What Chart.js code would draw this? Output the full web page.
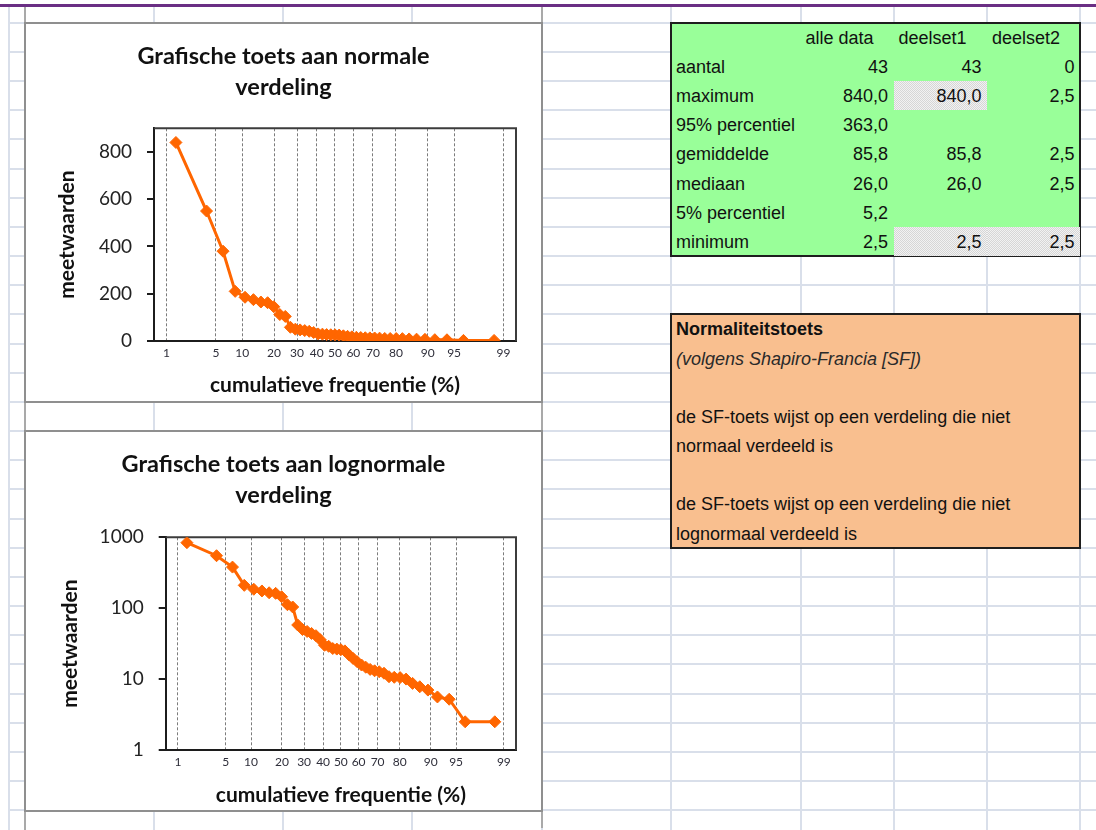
<!DOCTYPE html>
<html>
<head>
<meta charset="utf-8">
<title>Grafische toets</title>
<script src="https://cdn.jsdelivr.net/npm/chart.js@4/dist/chart.umd.min.js"></script>
<style>
  html, body { margin: 0; padding: 0; background: #fff; }
  body { width: 1096px; height: 830px; position: relative; overflow: hidden;
         font-family: "Liberation Sans", Arial, sans-serif; }
  .gl { position: absolute; background: #d9dfea; }
  .chartbox { position: absolute; background: #fff; border: 2px solid #8f8f8f; box-sizing: border-box; }
  .chartbox canvas { position: absolute; left: 0; top: 0; }
  .panel { position: absolute; box-sizing: border-box; border: 2px solid #1e1e1e; }
  .cell { position: absolute; font-size: 18px; color: #111; white-space: nowrap; }
</style>
</head>
<body>
<div id="sheet"></div>
<div class="chartbox" style="left:24px;top:22px;width:519px;height:381px"><canvas id="normalChart" width="515" height="377"></canvas></div>
<div class="chartbox" style="left:24px;top:430px;width:519px;height:382px"><canvas id="lognormalChart" width="515" height="378"></canvas></div>
<div class="panel" id="statsPanel" style="left:670px;top:21.7px;width:411px;height:235.4px;background:#99ff99"></div>
<div class="panel" id="testPanel" style="left:670px;top:313.4px;width:411px;height:235.4px;background:#f9bf8f"></div>

<script>
// ---- data -------------------------------------------------------------
// measured values, sorted from largest to smallest
const meetwaarden = [840, 550, 380, 210, 185, 175, 165, 162, 145, 112, 104, 58, 50, 47, 44, 41, 36, 30, 29, 27,
                     26.5, 26, 25, 22, 19.6, 17.6, 15.8, 14.7, 13.7, 13.1, 12.7, 12.1, 10.8, 10.6, 10.5, 10.0,
                     8.7, 7.8, 7.0, 5.6, 5.2, 2.5, 2.5];
// cumulative frequency (%) of each measurement
const cumFreq = [1.4, 3.8, 6.1, 8.4, 10.7, 13.0, 15.3, 17.6, 19.9, 22.3, 24.6, 26.9, 29.2, 31.5, 33.8, 36.1, 38.4,
                 40.8, 43.1, 45.4, 47.7, 50.0, 52.3, 54.6, 56.9, 59.2, 61.6, 63.9, 66.2, 68.5, 70.8, 73.1, 75.4,
                 77.7, 80.1, 82.4, 84.7, 87.0, 89.3, 91.6, 93.9, 96.2, 98.6];
const freqTicks = [1, 5, 10, 20, 30, 40, 50, 60, 70, 80, 90, 95, 99];
const normalTicks = [0, 200, 400, 600, 800];
const logTicks = [1, 10, 100, 1000];

// statistics table
const colHeaders = ['alle data', 'deelset1', 'deelset2'];
const statLabels = ['aantal', 'maximum', '95% percentiel', 'gemiddelde', 'mediaan', '5% percentiel', 'minimum'];
const alleData = ['43', '840,0', '363,0', '85,8', '26,0', '5,2', '2,5'];
const deelset1 = ['43', '840,0', '', '85,8', '26,0', '', '2,5'];
const deelset2 = ['0', '2,5', '', '2,5', '2,5', '', '2,5'];

// normality test texts
const testTitle = 'Normaliteitstoets';
const testSubtitle = '(volgens Shapiro-Francia [SF])';
const testLines = ['de SF-toets wijst op een verdeling die niet', 'normaal verdeeld is', '',
                   'de SF-toets wijst op een verdeling die niet', 'lognormaal verdeeld is'];

// ---- worksheet grid ----------------------------------------------------
const ROW0 = 22.7, ROWH = 29.17;
const colLines = [9, 24.5, 153.5, 283, 412, 541.5, 671, 800.5, 893.5, 987, 1080];
const sheet = document.getElementById('sheet');
function addDiv(parent, css, cls, text) {
  const d = document.createElement('div');
  if (cls) d.className = cls;
  d.style.cssText = css;
  if (text !== undefined) d.textContent = text;
  parent.appendChild(d);
  return d;
}
for (let k = 0; ROW0 + k * ROWH < 832; k++) {
  addDiv(sheet, `left:9px;width:1087px;top:${ROW0 + k * ROWH - 1}px;height:2px`, 'gl');
}
colLines.forEach(x => addDiv(sheet, `left:${x - 1}px;width:2px;top:6px;height:824px`, 'gl'));
addDiv(sheet, 'position:absolute;left:23.5px;width:2px;top:6px;height:824px;background:#a9a9a9');
addDiv(sheet, 'position:absolute;left:540.5px;width:2px;top:6px;height:822px;background:#a9a9a9');
addDiv(sheet, 'position:absolute;left:0;width:1096px;top:4px;height:2.5px;background:#6a2e84');

// ---- statistics table ---------------------------------------------------
const colLeft = [671, 800.5, 893.5, 987, 1080];
const shadedCells = [[2, 1], [2, 6], [3, 6]];
shadedCells.forEach(([c, r]) => {
  addDiv(document.body,
    `position:absolute;left:${colLeft[c]}px;width:${colLeft[c + 1] - colLeft[c]}px;` +
    `top:${ROW0 + (r + 1) * ROWH}px;height:${ROWH}px;` +
    'background:repeating-conic-gradient(#d6d6d6 0% 25%, #f2f2f2 0% 50%) 0 0/2px 2px');
});
function rowTop(r) { return ROW0 + r * ROWH + 1; }
colHeaders.forEach((h, i) => {
  addDiv(document.body, `left:${colLeft[i + 1] + 5}px;top:${rowTop(0)}px;line-height:${ROWH}px`, 'cell', h);
});
statLabels.forEach((lab, r) => {
  addDiv(document.body, `left:676px;top:${rowTop(r + 1)}px;line-height:${ROWH}px`, 'cell', lab);
  [alleData, deelset1, deelset2].forEach((col, c) => {
    if (!col[r]) return;
    addDiv(document.body,
      `right:${1096 - colLeft[c + 2] + 5.5}px;top:${rowTop(r + 1)}px;line-height:${ROWH}px;text-align:right`,
      'cell', col[r]);
  });
});

// ---- normality test panel -----------------------------------------------
const T0 = ROW0 + 10 * ROWH;
addDiv(document.body, `left:676px;top:${T0 + 1}px;line-height:${ROWH}px;font-weight:bold`, 'cell', testTitle);
addDiv(document.body, `left:676px;top:${T0 + ROWH + 1}px;line-height:${ROWH}px;font-style:italic;color:#2a2a2a`, 'cell', testSubtitle);
testLines.forEach((t, i) => {
  if (t) addDiv(document.body, `left:676px;top:${T0 + (i + 3) * ROWH + 1}px;line-height:${ROWH}px`, 'cell', t);
});

// ---- probability (normal quantile) axis ----------------------------------
function probit(p) {
  const a = [-3.969683028665376e+01, 2.209460984245205e+02, -2.759285104469687e+02, 1.383577518672690e+02, -3.066479806614716e+01, 2.506628277459239e+00];
  const b = [-5.447609879822406e+01, 1.615858368580409e+02, -1.556989798598866e+02, 6.680131188771972e+01, -1.328068155288572e+01];
  const c = [-7.784894002430293e-03, -3.223964580411365e-01, -2.400758277161838e+00, -2.549671348283180e+00, 4.374664141464968e+00, 2.938163982698783e+00];
  const d = [7.784695709041462e-03, 3.224671290700398e-01, 2.445134137142996e+00, 3.754408661907416e+00];
  const pl = 0.02425;
  let q, r;
  if (p < pl) {
    q = Math.sqrt(-2 * Math.log(p));
    return (((((c[0] * q + c[1]) * q + c[2]) * q + c[3]) * q + c[4]) * q + c[5]) / ((((d[0] * q + d[1]) * q + d[2]) * q + d[3]) * q + 1);
  }
  if (p <= 1 - pl) {
    q = p - 0.5; r = q * q;
    return (((((a[0] * r + a[1]) * r + a[2]) * r + a[3]) * r + a[4]) * r + a[5]) * q / (((((b[0] * r + b[1]) * r + b[2]) * r + b[3]) * r + b[4]) * r + 1);
  }
  q = Math.sqrt(-2 * Math.log(1 - p));
  return -(((((c[0] * q + c[1]) * q + c[2]) * q + c[3]) * q + c[4]) * q + c[5]) / ((((d[0] * q + d[1]) * q + d[2]) * q + d[3]) * q + 1);
}
function normCdf(z) {
  const t = 1 / (1 + 0.2316419 * Math.abs(z));
  const y = 0.3989423 * Math.exp(-z * z / 2) * t * (0.3193815 + t * (-0.3565638 + t * (1.781478 + t * (-1.821256 + t * 1.330274))));
  return z > 0 ? 1 - y : y;
}
class ProbabilityScale extends Chart.LinearScale {
  static id = 'probability';
  static defaults = {};
  determineDataLimits() {
    this.min = this.options.min;
    this.max = this.options.max;
  }
  buildTicks() { return []; }
  configure() {
    super.configure();
    this._zStart = probit(this.min / 100);
    this._zRange = probit(this.max / 100) - this._zStart;
  }
  getPixelForValue(value) {
    if (value === null || value === undefined || isNaN(value)) return NaN;
    return this.getPixelForDecimal((probit(value / 100) - this._zStart) / this._zRange);
  }
  getValueForPixel(pixel) {
    return 100 * normCdf(this._zStart + this.getDecimalForPixel(pixel) * this._zRange);
  }
}
Chart.register(ProbabilityScale);

// ---- charts -------------------------------------------------------------
const ORANGE = '#ff6600';
const AXIS = '#1c1c1c';
const plotFrame = {
  id: 'plotFrame',
  beforeDatasetsDraw(chart) {
    const { ctx, chartArea: a } = chart;
    ctx.save();
    ctx.strokeStyle = '#3c3c3c';
    ctx.lineWidth = 2;
    ctx.beginPath();
    ctx.moveTo(a.left, a.top);
    ctx.lineTo(a.right, a.top);
    ctx.lineTo(a.right, a.bottom);
    ctx.stroke();
    ctx.restore();
  }
};

function buildChart(canvasId, cfg) {
  const points = cumFreq.map((f, i) => ({ x: f, y: meetwaarden[i] }));
  return new Chart(document.getElementById(canvasId), {
    type: 'line',
    data: {
      datasets: [{
        data: points,
        borderColor: ORANGE,
        backgroundColor: ORANGE,
        borderWidth: 3,
        pointStyle: 'rectRot',
        pointRadius: 6,
        pointBorderWidth: 1,
        pointBorderColor: ORANGE,
        pointBackgroundColor: ORANGE,
        tension: 0
      }]
    },
    options: {
      responsive: false,
      animation: false,
      devicePixelRatio: 1,
      layout: { padding: { left: 25, right: 25, top: 0, bottom: 0 } },
      plugins: {
        legend: { display: false },
        tooltip: { enabled: false },
        title: {
          display: true,
          text: cfg.title,
          color: '#111',
          font: { family: 'Lato', size: 23.5, weight: 'bold', lineHeight: 31 / 23.5 },
          padding: { top: 17, bottom: cfg.titleGap }
        }
      },
      scales: {
        x: {
          type: 'probability',
          min: 0.621,
          max: 99.379,
          afterBuildTicks: s => { s.ticks = freqTicks.map(v => ({ value: v })); },
          afterFit: s => { s.height = 60; },
          grid: { display: true, drawOnChartArea: true, drawTicks: false, color: '#7c7c7c', lineWidth: 1 },
          border: { display: true, color: AXIS, width: 2, dash: [3, 2] },
          ticks: {
            autoSkip: false, maxRotation: 0, minRotation: 0, padding: 5,
            color: '#2e2e3a', font: { family: 'Lato', size: 12 },
            callback: v => String(v)
          },
          title: {
            display: true, text: 'cumulatieve frequentie (%)', color: '#111',
            font: { family: 'Lato', size: 21, weight: 'bold', lineHeight: 1.2 },
            padding: { top: 0, bottom: cfg.xTitlePad }
          }
        },
        y: Object.assign({
          afterBuildTicks: s => { s.ticks = cfg.yTicks.map(v => ({ value: v })); },
          afterFit: s => { s.width = cfg.yWidth; },
          grid: { display: true, drawOnChartArea: false, drawTicks: true, tickLength: 7, color: AXIS, lineWidth: 2 },
          border: { display: true, color: AXIS, width: 2 },
          ticks: {
            padding: 15, color: '#222', font: { family: 'Lato', size: 19 },
            callback: v => String(v)
          },
          title: {
            display: true, text: 'meetwaarden', color: '#111',
            font: { family: 'Lato', size: 21, weight: 'bold', lineHeight: 1.2 },
            padding: { top: cfg.yTitlePad, bottom: 0 }
          }
        }, cfg.yScale)
      }
    },
    plugins: [plotFrame]
  });
}

function draw() {
  buildChart('normalChart', {
    title: ['Grafische toets aan normale', 'verdeling'],
    titleGap: 25.3,
    xTitlePad: 3.4,
    yTitlePad: 3.4,
    yWidth: 103,
    yTicks: normalTicks,
    yScale: { type: 'linear', min: 0, max: 900 }
  });
  buildChart('lognormalChart', {
    title: ['Grafische toets aan lognormale', 'verdeling'],
    titleGap: 26.3,
    xTitlePad: 2.4,
    yTitlePad: 6.4,
    yWidth: 114.7,
    yTicks: logTicks,
    yScale: { type: 'logarithmic', min: 1, max: 1000 }
  });
}
Promise.all([
  document.fonts.load('bold 21px Lato'),
  document.fonts.load('19px Lato')
]).then(draw, draw);
</script>
</body>
</html>
